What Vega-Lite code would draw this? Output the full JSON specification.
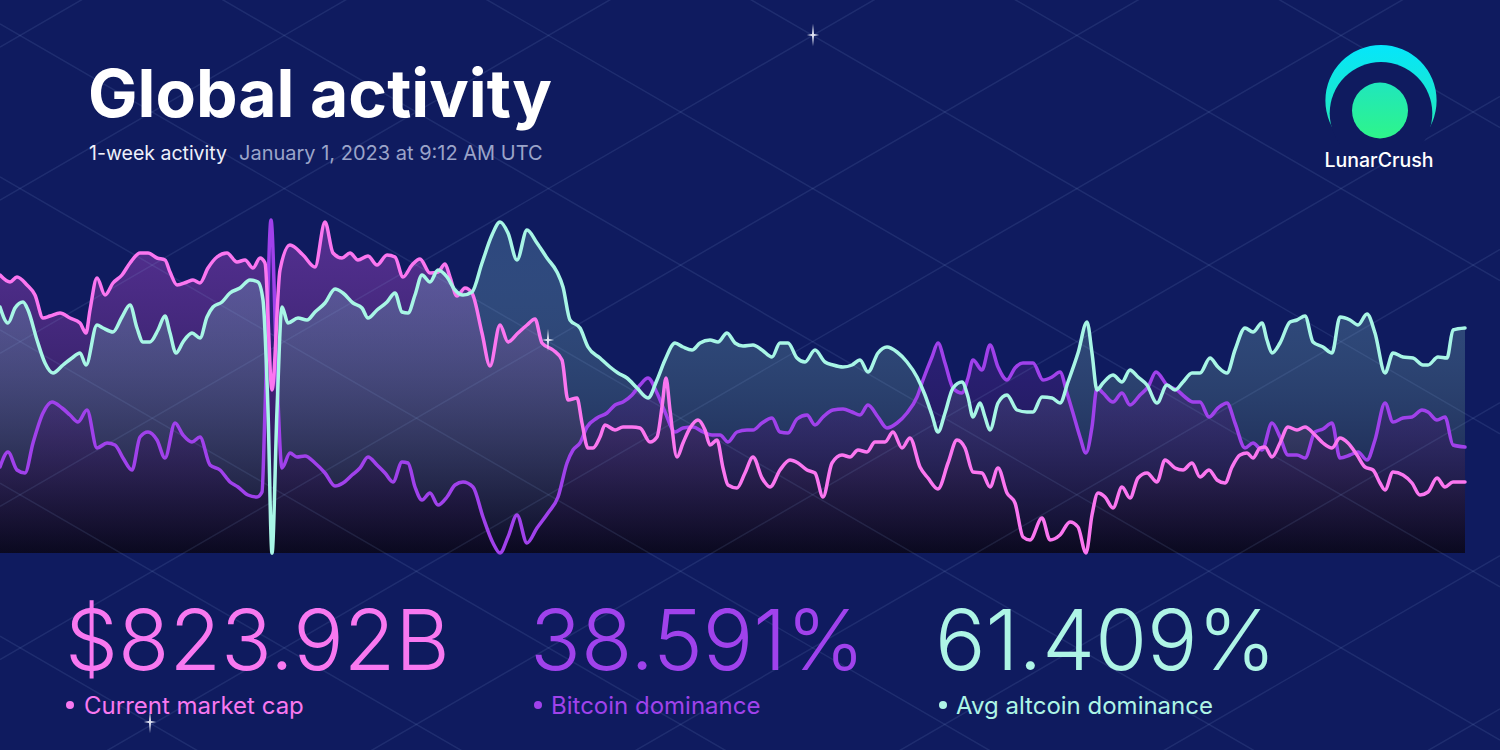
{
  "$schema": "https://vega.github.io/schema/vega-lite/v6.json",
  "description": "LunarCrush global activity card: market cap, bitcoin dominance and altcoin dominance over one week",
  "width": 1500,
  "height": 750,
  "padding": 0,
  "autosize": {"type": "none"},
  "background": "#0f1b5f",
  "config": {"view": {"stroke": null}},
  "datasets": {
    "cap": [
      {"t":0,"v":278},{"t":10,"v":271},{"t":17,"v":276},{"t":27,"v":268},{"t":35,"v":258},{"t":43,"v":235},{"t":50,"v":237},{"t":60,"v":240},{"t":70,"v":235},{"t":80,"v":230},{"t":86,"v":220},{"t":90,"v":243},{"t":97,"v":275},{"t":105,"v":258},{"t":113,"v":270},{"t":122,"v":278},{"t":130,"v":290},{"t":140,"v":300},{"t":148,"v":300},{"t":157,"v":295},{"t":165,"v":293},{"t":170,"v":281},{"t":177,"v":268},{"t":187,"v":271},{"t":193,"v":273},{"t":200,"v":270},{"t":208,"v":285},{"t":217,"v":296},{"t":227,"v":300},{"t":237,"v":291},{"t":245,"v":293},{"t":253,"v":285},{"t":260,"v":295},{"t":265,"v":290},{"t":272,"v":163},{"t":280,"v":283},{"t":290,"v":308},{"t":303,"v":298},{"t":315,"v":286},{"t":325,"v":331},{"t":333,"v":300},{"t":342,"v":295},{"t":350,"v":300},{"t":358,"v":293},{"t":368,"v":297},{"t":377,"v":288},{"t":387,"v":298},{"t":395,"v":296},{"t":403,"v":276},{"t":412,"v":288},{"t":420,"v":294},{"t":430,"v":280},{"t":438,"v":281},{"t":445,"v":289},{"t":450,"v":276},{"t":457,"v":257},{"t":465,"v":265},{"t":472,"v":260},{"t":482,"v":220},{"t":490,"v":187},{"t":500,"v":228},{"t":508,"v":211},{"t":518,"v":220},{"t":527,"v":228},{"t":535,"v":234},{"t":542,"v":210},{"t":553,"v":203},{"t":562,"v":193},{"t":568,"v":153},{"t":577,"v":155},{"t":582,"v":130},{"t":588,"v":105},{"t":593,"v":105},{"t":600,"v":116},{"t":605,"v":128},{"t":615,"v":123},{"t":623,"v":126},{"t":632,"v":126},{"t":640,"v":125},{"t":650,"v":111},{"t":657,"v":116},{"t":662,"v":146},{"t":666,"v":175},{"t":670,"v":143},{"t":677,"v":96},{"t":683,"v":110},{"t":690,"v":125},{"t":698,"v":133},{"t":705,"v":123},{"t":710,"v":108},{"t":717,"v":113},{"t":723,"v":85},{"t":728,"v":68},{"t":737,"v":65},{"t":745,"v":80},{"t":753,"v":96},{"t":762,"v":75},{"t":770,"v":66},{"t":780,"v":83},{"t":790,"v":93},{"t":798,"v":90},{"t":807,"v":83},{"t":815,"v":80},{"t":823,"v":56},{"t":832,"v":90},{"t":842,"v":98},{"t":850,"v":96},{"t":858,"v":103},{"t":867,"v":101},{"t":875,"v":111},{"t":885,"v":111},{"t":893,"v":121},{"t":902,"v":105},{"t":910,"v":115},{"t":920,"v":86},{"t":928,"v":75},{"t":938,"v":64},{"t":948,"v":90},{"t":957,"v":113},{"t":965,"v":105},{"t":973,"v":81},{"t":982,"v":80},{"t":990,"v":66},{"t":998,"v":85},{"t":1007,"v":60},{"t":1015,"v":50},{"t":1023,"v":16},{"t":1030,"v":13},{"t":1042,"v":35},{"t":1050,"v":13},{"t":1060,"v":18},{"t":1070,"v":31},{"t":1078,"v":26},{"t":1086,"v":0},{"t":1092,"v":38},{"t":1098,"v":60},{"t":1105,"v":56},{"t":1113,"v":45},{"t":1122,"v":66},{"t":1130,"v":55},{"t":1138,"v":75},{"t":1147,"v":80},{"t":1157,"v":71},{"t":1165,"v":93},{"t":1175,"v":85},{"t":1183,"v":83},{"t":1192,"v":90},{"t":1200,"v":76},{"t":1209,"v":83},{"t":1217,"v":73},{"t":1225,"v":70},{"t":1232,"v":86},{"t":1240,"v":98},{"t":1247,"v":100},{"t":1253,"v":95},{"t":1260,"v":105},{"t":1265,"v":106},{"t":1272,"v":96},{"t":1280,"v":110},{"t":1288,"v":126},{"t":1297,"v":123},{"t":1305,"v":126},{"t":1315,"v":118},{"t":1323,"v":110},{"t":1332,"v":105},{"t":1340,"v":115},{"t":1348,"v":110},{"t":1357,"v":98},{"t":1365,"v":86},{"t":1373,"v":83},{"t":1380,"v":70},{"t":1385,"v":63},{"t":1393,"v":81},{"t":1403,"v":78},{"t":1412,"v":70},{"t":1420,"v":58},{"t":1428,"v":61},{"t":1437,"v":75},{"t":1445,"v":66},{"t":1453,"v":71},{"t":1465,"v":71}
    ],
    "alt": [
      {"t":0,"v":246},{"t":8,"v":230},{"t":15,"v":245},{"t":23,"v":251},{"t":28,"v":243},{"t":37,"v":213},{"t":45,"v":190},{"t":53,"v":180},{"t":63,"v":188},{"t":72,"v":195},{"t":80,"v":200},{"t":86,"v":188},{"t":97,"v":228},{"t":103,"v":225},{"t":113,"v":221},{"t":122,"v":236},{"t":130,"v":248},{"t":137,"v":225},{"t":143,"v":211},{"t":150,"v":211},{"t":158,"v":223},{"t":165,"v":237},{"t":170,"v":220},{"t":176,"v":200},{"t":183,"v":211},{"t":192,"v":220},{"t":200,"v":215},{"t":207,"v":236},{"t":213,"v":246},{"t":222,"v":251},{"t":230,"v":260},{"t":240,"v":265},{"t":250,"v":273},{"t":258,"v":271},{"t":263,"v":253},{"t":268,"v":143},{"t":272,"v":0},{"t":277,"v":143},{"t":282,"v":246},{"t":288,"v":230},{"t":298,"v":235},{"t":307,"v":233},{"t":315,"v":241},{"t":325,"v":250},{"t":335,"v":264},{"t":343,"v":260},{"t":353,"v":250},{"t":362,"v":245},{"t":368,"v":235},{"t":377,"v":243},{"t":387,"v":251},{"t":395,"v":260},{"t":402,"v":241},{"t":408,"v":240},{"t":415,"v":258},{"t":422,"v":278},{"t":430,"v":271},{"t":438,"v":283},{"t":447,"v":276},{"t":455,"v":263},{"t":463,"v":258},{"t":472,"v":261},{"t":482,"v":290},{"t":492,"v":318},{"t":500,"v":331},{"t":508,"v":320},{"t":517,"v":293},{"t":527,"v":323},{"t":537,"v":310},{"t":547,"v":295},{"t":557,"v":281},{"t":563,"v":266},{"t":570,"v":233},{"t":580,"v":225},{"t":588,"v":206},{"t":600,"v":195},{"t":610,"v":186},{"t":618,"v":180},{"t":627,"v":175},{"t":637,"v":165},{"t":648,"v":155},{"t":657,"v":173},{"t":665,"v":193},{"t":675,"v":210},{"t":683,"v":206},{"t":692,"v":203},{"t":700,"v":210},{"t":710,"v":213},{"t":718,"v":211},{"t":727,"v":220},{"t":735,"v":210},{"t":743,"v":207},{"t":753,"v":208},{"t":762,"v":203},{"t":772,"v":196},{"t":780,"v":210},{"t":788,"v":210},{"t":797,"v":195},{"t":805,"v":191},{"t":815,"v":203},{"t":825,"v":191},{"t":833,"v":188},{"t":843,"v":186},{"t":852,"v":188},{"t":860,"v":193},{"t":868,"v":181},{"t":878,"v":200},{"t":887,"v":206},{"t":897,"v":201},{"t":907,"v":191},{"t":917,"v":176},{"t":925,"v":158},{"t":932,"v":138},{"t":938,"v":121},{"t":945,"v":140},{"t":953,"v":165},{"t":962,"v":171},{"t":968,"v":156},{"t":973,"v":136},{"t":980,"v":150},{"t":985,"v":136},{"t":990,"v":123},{"t":998,"v":150},{"t":1007,"v":158},{"t":1017,"v":143},{"t":1027,"v":141},{"t":1033,"v":141},{"t":1042,"v":156},{"t":1052,"v":155},{"t":1060,"v":150},{"t":1068,"v":171},{"t":1078,"v":200},{"t":1087,"v":231},{"t":1092,"v":200},{"t":1097,"v":163},{"t":1103,"v":170},{"t":1113,"v":178},{"t":1122,"v":171},{"t":1130,"v":183},{"t":1138,"v":176},{"t":1147,"v":168},{"t":1157,"v":150},{"t":1167,"v":168},{"t":1175,"v":163},{"t":1183,"v":171},{"t":1192,"v":180},{"t":1200,"v":180},{"t":1210,"v":195},{"t":1218,"v":186},{"t":1227,"v":180},{"t":1235,"v":203},{"t":1245,"v":225},{"t":1253,"v":221},{"t":1262,"v":230},{"t":1267,"v":213},{"t":1272,"v":200},{"t":1280,"v":210},{"t":1290,"v":231},{"t":1297,"v":233},{"t":1305,"v":237},{"t":1313,"v":211},{"t":1323,"v":206},{"t":1332,"v":200},{"t":1340,"v":236},{"t":1350,"v":233},{"t":1358,"v":228},{"t":1367,"v":239},{"t":1375,"v":220},{"t":1385,"v":180},{"t":1393,"v":200},{"t":1403,"v":196},{"t":1413,"v":195},{"t":1423,"v":188},{"t":1428,"v":188},{"t":1438,"v":196},{"t":1447,"v":195},{"t":1453,"v":223},{"t":1465,"v":225}
    ],
    "btc": [
      {"t":0,"v":86},{"t":8,"v":101},{"t":17,"v":83},{"t":25,"v":80},{"t":33,"v":110},{"t":43,"v":140},{"t":52,"v":151},{"t":62,"v":145},{"t":70,"v":138},{"t":78,"v":131},{"t":87,"v":143},{"t":97,"v":105},{"t":107,"v":110},{"t":115,"v":108},{"t":123,"v":95},{"t":132,"v":83},{"t":140,"v":116},{"t":148,"v":121},{"t":157,"v":113},{"t":165,"v":95},{"t":175,"v":130},{"t":183,"v":118},{"t":192,"v":111},{"t":200,"v":116},{"t":210,"v":88},{"t":220,"v":83},{"t":230,"v":71},{"t":238,"v":66},{"t":248,"v":58},{"t":257,"v":56},{"t":262,"v":61},{"t":265,"v":143},{"t":271,"v":333},{"t":277,"v":176},{"t":282,"v":85},{"t":290,"v":100},{"t":297,"v":96},{"t":305,"v":97},{"t":315,"v":90},{"t":325,"v":80},{"t":335,"v":67},{"t":343,"v":70},{"t":352,"v":78},{"t":360,"v":85},{"t":368,"v":96},{"t":377,"v":88},{"t":385,"v":80},{"t":393,"v":71},{"t":402,"v":91},{"t":408,"v":90},{"t":415,"v":66},{"t":422,"v":53},{"t":430,"v":60},{"t":438,"v":48},{"t":447,"v":56},{"t":455,"v":68},{"t":463,"v":71},{"t":473,"v":66},{"t":483,"v":36},{"t":493,"v":10},{"t":500,"v":0},{"t":508,"v":16},{"t":517,"v":38},{"t":527,"v":10},{"t":537,"v":25},{"t":548,"v":40},{"t":558,"v":56},{"t":567,"v":90},{"t":573,"v":103},{"t":580,"v":110},{"t":587,"v":126},{"t":597,"v":135},{"t":607,"v":140},{"t":615,"v":148},{"t":623,"v":151},{"t":632,"v":158},{"t":640,"v":168},{"t":648,"v":175},{"t":657,"v":160},{"t":665,"v":141},{"t":675,"v":121},{"t":683,"v":125},{"t":693,"v":126},{"t":703,"v":121},{"t":712,"v":118},{"t":720,"v":118},{"t":728,"v":111},{"t":737,"v":121},{"t":747,"v":123},{"t":753,"v":123},{"t":762,"v":130},{"t":772,"v":135},{"t":780,"v":121},{"t":788,"v":120},{"t":797,"v":134},{"t":807,"v":138},{"t":815,"v":128},{"t":823,"v":136},{"t":833,"v":143},{"t":843,"v":144},{"t":852,"v":141},{"t":860,"v":138},{"t":868,"v":148},{"t":878,"v":136},{"t":887,"v":125},{"t":897,"v":130},{"t":907,"v":140},{"t":917,"v":156},{"t":923,"v":173},{"t":932,"v":196},{"t":938,"v":210},{"t":945,"v":190},{"t":953,"v":165},{"t":962,"v":160},{"t":968,"v":175},{"t":973,"v":193},{"t":982,"v":183},{"t":990,"v":208},{"t":998,"v":186},{"t":1007,"v":173},{"t":1015,"v":185},{"t":1023,"v":190},{"t":1033,"v":190},{"t":1043,"v":173},{"t":1052,"v":176},{"t":1060,"v":181},{"t":1067,"v":160},{"t":1073,"v":140},{"t":1080,"v":116},{"t":1086,"v":100},{"t":1092,"v":126},{"t":1097,"v":165},{"t":1103,"v":160},{"t":1113,"v":151},{"t":1122,"v":160},{"t":1130,"v":148},{"t":1140,"v":158},{"t":1148,"v":166},{"t":1156,"v":181},{"t":1167,"v":168},{"t":1177,"v":163},{"t":1185,"v":156},{"t":1193,"v":151},{"t":1200,"v":151},{"t":1209,"v":136},{"t":1218,"v":145},{"t":1227,"v":150},{"t":1235,"v":130},{"t":1245,"v":105},{"t":1253,"v":110},{"t":1262,"v":103},{"t":1272,"v":130},{"t":1280,"v":116},{"t":1288,"v":98},{"t":1297,"v":98},{"t":1305,"v":95},{"t":1315,"v":121},{"t":1323,"v":124},{"t":1332,"v":130},{"t":1340,"v":95},{"t":1350,"v":98},{"t":1358,"v":101},{"t":1367,"v":93},{"t":1375,"v":113},{"t":1385,"v":150},{"t":1393,"v":131},{"t":1403,"v":135},{"t":1412,"v":136},{"t":1422,"v":143},{"t":1428,"v":141},{"t":1437,"v":133},{"t":1445,"v":136},{"t":1453,"v":108},{"t":1465,"v":106}
    ],
    "lattice": [
      {"left":1294.7,"right":425.4},{"left":1141.6,"right":272.3},{"left":988.5,"right":119.2},{"left":835.4,"right":-33.9},{"left":682.3,"right":-187.0},{"left":529.2,"right":-340.1},{"left":376.1,"right":-493.2},{"left":223.0,"right":-646.3},{"left":69.9,"right":-799.4},{"left":-83.2,"right":-952.5},
      {"left":505.9,"right":1375.2},{"left":352.8,"right":1222.1},{"left":199.7,"right":1069.0},{"left":46.6,"right":915.9},{"left":-106.5,"right":762.8},{"left":-259.6,"right":609.7},{"left":-412.7,"right":456.6},{"left":-565.8,"right":303.5},{"left":-718.9,"right":150.4},{"left":-872.0,"right":-2.7},{"left":-1025.1,"right":-155.8}
    ],
    "stars": [
      {"t":813,"v":518},{"t":548,"v":213},{"t":150,"v":-169}
    ],
    "stats": [
      {"key": "cap", "display": "$823.92B", "metric": "Current market cap"},
      {"key": "btc", "display": "38.591%", "metric": "Bitcoin dominance"},
      {"key": "alt", "display": "61.409%", "metric": "Avg altcoin dominance"}
    ]
  },
  "layer": [
    {
      "data": {"name": "cap"},
      "mark": {
        "type": "area",
        "interpolate": "monotone",
        "fill": {"gradient": "linear", "x1": 0, "y1": 0, "x2": 0, "y2": 1,
          "stops": [{"offset": 0, "color": "rgba(178,76,214,0.42)"}, {"offset": 1, "color": "rgba(10,8,28,0.62)"}]}
      },
      "encoding": {
        "x": {"field": "t", "type": "quantitative", "scale": {"domain": [0, 1500], "nice": false, "zero": false}, "axis": null},
        "y": {"field": "v", "type": "quantitative", "scale": {"domain": [-197, 553], "nice": false, "zero": false}, "axis": null},
        "y2": {"datum": 0}
      }
    },
    {
      "data": {"name": "alt"},
      "mark": {
        "type": "area",
        "interpolate": "monotone",
        "fill": {"gradient": "linear", "x1": 0, "y1": 0, "x2": 0, "y2": 1,
          "stops": [{"offset": 0, "color": "rgba(150,225,235,0.22)"}, {"offset": 1, "color": "rgba(10,8,28,0.62)"}]}
      },
      "encoding": {
        "x": {"field": "t", "type": "quantitative"},
        "y": {"field": "v", "type": "quantitative"},
        "y2": {"datum": 0}
      }
    },
    {
      "data": {"name": "btc"},
      "mark": {
        "type": "area",
        "interpolate": "monotone",
        "fill": {"gradient": "linear", "x1": 0, "y1": 0, "x2": 0, "y2": 1,
          "stops": [{"offset": 0, "color": "rgba(140,60,230,0.2)"}, {"offset": 1, "color": "rgba(10,8,28,0.62)"}]}
      },
      "encoding": {
        "x": {"field": "t", "type": "quantitative"},
        "y": {"field": "v", "type": "quantitative"},
        "y2": {"datum": 0}
      }
    },
    {
      "data": {"name": "lattice"},
      "mark": {"type": "rule", "color": "#8aa8e0", "strokeWidth": 1.5, "opacity": 0.13},
      "encoding": {
        "x": {"datum": 0},
        "x2": {"datum": 1500},
        "y": {"field": "left", "type": "quantitative"},
        "y2": {"field": "right"}
      }
    },
    {
      "data": {"name": "btc"},
      "mark": {"type": "line", "interpolate": "monotone", "color": "#a041eb", "strokeWidth": 3.5, "strokeCap": "round", "strokeJoin": "round"},
      "encoding": {
        "x": {"field": "t", "type": "quantitative"},
        "y": {"field": "v", "type": "quantitative"}
      }
    },
    {
      "data": {"name": "cap"},
      "mark": {"type": "line", "interpolate": "monotone", "color": "#fb76f0", "strokeWidth": 3.5, "strokeCap": "round", "strokeJoin": "round"},
      "encoding": {
        "x": {"field": "t", "type": "quantitative"},
        "y": {"field": "v", "type": "quantitative"}
      }
    },
    {
      "data": {"name": "alt"},
      "mark": {"type": "line", "interpolate": "monotone", "color": "#a8f6e6", "strokeWidth": 3.5, "strokeCap": "round", "strokeJoin": "round"},
      "encoding": {
        "x": {"field": "t", "type": "quantitative"},
        "y": {"field": "v", "type": "quantitative"}
      }
    },
    {
      "data": {"name": "stars"},
      "mark": {"type": "point", "shape": "M0,-1 L0.09,-0.09 L0.55,0 L0.09,0.09 L0,1 L-0.09,0.09 L-0.55,0 L-0.09,-0.09 Z", "filled": true, "size": 500, "strokeWidth": 0, "opacity": 0.9, "color": "#f4f6ff"},
      "encoding": {
        "x": {"field": "t", "type": "quantitative"},
        "y": {"field": "v", "type": "quantitative"}
      }
    },
    {
      "data": {"values": [{"label": "Global activity"}]},
      "mark": {"type": "text", "font": "Inter", "fontSize": 66, "fontWeight": 700, "align": "left", "baseline": "alphabetic", "color": "#ffffff"},
      "encoding": {"x": {"datum": 88}, "y": {"datum": 436}, "text": {"field": "label"}}
    },
    {
      "data": {"values": [{"label": "1-week activity"}]},
      "mark": {"type": "text", "font": "Inter", "fontSize": 19.5, "align": "left", "baseline": "alphabetic", "color": "#eef0fa"},
      "encoding": {"x": {"datum": 89}, "y": {"datum": 393}, "text": {"field": "label"}}
    },
    {
      "data": {"values": [{"label": "January 1, 2023 at 9:12 AM UTC"}]},
      "mark": {"type": "text", "font": "Inter", "fontSize": 20, "align": "left", "baseline": "alphabetic", "color": "#9ba4c9"},
      "encoding": {"x": {"datum": 239}, "y": {"datum": 393}, "text": {"field": "label"}}
    },
    {
      "data": {"values": [{"part": "outer"}]},
      "mark": {"type": "point", "shape": "circle", "filled": true, "size": 12365, "strokeWidth": 0, "opacity": 1,
        "fill": {"gradient": "linear", "x1": 0, "y1": 0, "x2": 0, "y2": 1,
          "stops": [{"offset": 0, "color": "#05e6fb"}, {"offset": 0.6, "color": "#1de8c8"}, {"offset": 1, "color": "#2cec9c"}]}},
      "encoding": {"x": {"datum": 1381}, "y": {"datum": 452.4}}
    },
    {
      "data": {"values": [{"part": "cut"}]},
      "mark": {"type": "point", "shape": "circle", "filled": true, "size": 10527, "strokeWidth": 0, "opacity": 1, "fill": "#0f1b5f"},
      "encoding": {"x": {"datum": 1381}, "y": {"datum": 439.7}}
    },
    {
      "data": {"values": [{"part": "moon"}]},
      "mark": {"type": "point", "shape": "circle", "filled": true, "size": 3136, "strokeWidth": 0, "opacity": 1,
        "fill": {"gradient": "linear", "x1": 0, "y1": 0, "x2": 0, "y2": 1,
          "stops": [{"offset": 0, "color": "#20e6bd"}, {"offset": 1, "color": "#2ef58a"}]}},
      "encoding": {"x": {"datum": 1380}, "y": {"datum": 442.5}}
    },
    {
      "data": {"values": [{"label": "LunarCrush"}]},
      "mark": {"type": "text", "font": "Inter", "fontSize": 19.5, "fontWeight": 500, "align": "center", "baseline": "alphabetic", "color": "#ffffff"},
      "encoding": {"x": {"datum": 1379}, "y": {"datum": 386}, "text": {"field": "label"}}
    },
    {
      "data": {"name": "stats"},
      "transform": [{"filter": "datum.key == 'cap'"}],
      "layer": [
        {
          "mark": {"type": "text", "font": "Inter", "fontSize": 84, "fontWeight": 300, "align": "left", "baseline": "alphabetic", "color": "#f878f0"},
          "encoding": {"x": {"datum": 65}, "y": {"datum": -117}, "text": {"field": "display"}}
        },
        {
          "mark": {"type": "point", "shape": "circle", "filled": true, "size": 64, "opacity": 1, "color": "#f878f0"},
          "encoding": {"x": {"datum": 70}, "y": {"datum": -152}}
        },
        {
          "mark": {"type": "text", "font": "Inter", "fontSize": 24, "align": "left", "baseline": "alphabetic", "color": "#f878f0"},
          "encoding": {"x": {"datum": 84}, "y": {"datum": -161}, "text": {"field": "metric"}}
        }
      ]
    },
    {
      "data": {"name": "stats"},
      "transform": [{"filter": "datum.key == 'btc'"}],
      "layer": [
        {
          "mark": {"type": "text", "font": "Inter", "fontSize": 84, "fontWeight": 300, "align": "left", "baseline": "alphabetic", "color": "#a042ec"},
          "encoding": {"x": {"datum": 530}, "y": {"datum": -117}, "text": {"field": "display"}}
        },
        {
          "mark": {"type": "point", "shape": "circle", "filled": true, "size": 64, "opacity": 1, "color": "#a042ec"},
          "encoding": {"x": {"datum": 538}, "y": {"datum": -152}}
        },
        {
          "mark": {"type": "text", "font": "Inter", "fontSize": 24, "align": "left", "baseline": "alphabetic", "color": "#a042ec"},
          "encoding": {"x": {"datum": 551}, "y": {"datum": -161}, "text": {"field": "metric"}}
        }
      ]
    },
    {
      "data": {"name": "stats"},
      "transform": [{"filter": "datum.key == 'alt'"}],
      "layer": [
        {
          "mark": {"type": "text", "font": "Inter", "fontSize": 84, "fontWeight": 300, "align": "left", "baseline": "alphabetic", "color": "#aef5e6"},
          "encoding": {"x": {"datum": 935}, "y": {"datum": -117}, "text": {"field": "display"}}
        },
        {
          "mark": {"type": "point", "shape": "circle", "filled": true, "size": 64, "opacity": 1, "color": "#aef5e6"},
          "encoding": {"x": {"datum": 943}, "y": {"datum": -152}}
        },
        {
          "mark": {"type": "text", "font": "Inter", "fontSize": 24, "align": "left", "baseline": "alphabetic", "color": "#aef5e6"},
          "encoding": {"x": {"datum": 956}, "y": {"datum": -161}, "text": {"field": "metric"}}
        }
      ]
    }
  ]
}
